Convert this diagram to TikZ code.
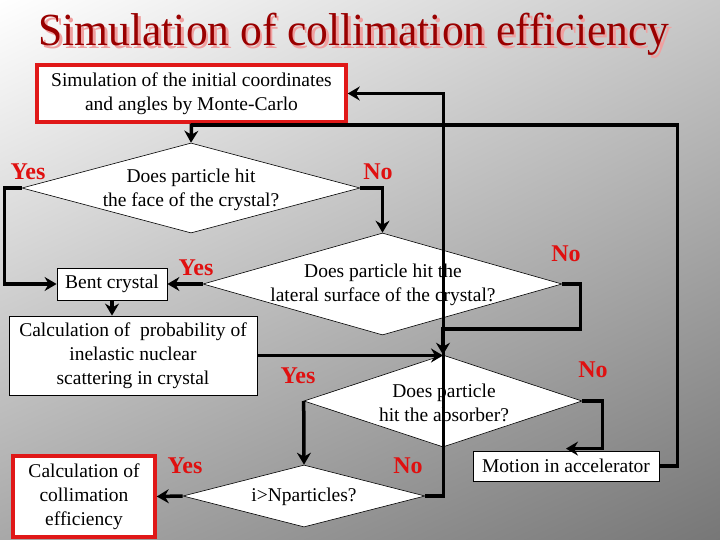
\documentclass[tikz,border=0pt]{standalone}
\usepackage{fontspec}
\usepackage{graphicx}
\setmainfont{Liberation Serif}
\usetikzlibrary{shapes.geometric,arrows.meta,shadings}
\definecolor{titlered}{HTML}{990000}
\definecolor{titleshadow}{HTML}{F0A0A0}
\definecolor{lblred}{HTML}{E01010}
\definecolor{boxred}{HTML}{E01818}
\definecolor{bgUR}{HTML}{C8C8C8}
\definecolor{bgLL}{HTML}{A8A8A8}
\definecolor{bgLR}{HTML}{777777}
\begin{document}
\begin{tikzpicture}[x=1pt,y=-1pt,
 box/.style={draw=black, line width=0.8pt, fill=white, inner sep=0pt, align=center, font=\fontsize{19.5}{24}\selectfont},
 redbox/.style={box, draw=boxred, line width=3.5pt},
 dia/.style={diamond, draw=black, line width=0.6pt, fill=white, inner sep=0pt},
 dtext/.style={align=center, inner sep=0pt, font=\fontsize{19.5}{24}\selectfont},
 lbl/.style={text=lblred, inner sep=0pt, font=\bfseries\fontsize{24}{24}\selectfont},
 conn/.style={line width=3.5pt, draw=black},
 arr/.style={conn, -{Stealth[length=12pt,width=14pt,inset=4pt]}},
 ttl/.style={anchor=base, inner sep=0pt, font=\fontsize{46}{46}\selectfont}
]
\useasboundingbox (0,0) rectangle (720,540);
\shade[upper left=white, upper right=bgUR, lower left=bgLL, lower right=bgLR] (0,0) rectangle (720,540);

% title
\node[ttl, text=titleshadow] (titleshadow) at (356.5,48.5) {\scalebox{0.945}[1]{Simulation of collimation efficiency}};
\node[ttl, text=titlered] (title) at (354,46) {\scalebox{0.945}[1]{Simulation of collimation efficiency}};

% boxes
\node[redbox, minimum width=309pt, minimum height=57pt] (box1) at (191.5,93.5) {Simulation of the initial coordinates\\and angles by Monte-Carlo};
\node[box, minimum width=110pt, minimum height=32pt] (bent) at (112,284) {Bent crystal};
\node[box, minimum width=248pt, minimum height=79pt] (calc) at (133,355.5) {Calculation of\ \ probability of\\inelastic nuclear\\scattering in crystal};
\node[redbox, minimum width=142pt, minimum height=81pt] (calc2) at (84,496.5) {Calculation of\\collimation\\efficiency};
\node[box, minimum width=186pt, minimum height=30pt] (motion) at (566,466) {Motion in accelerator};

% diamonds
\node[dia, minimum width=338pt, minimum height=90pt] (d1) at (191,188) {};
\node[dia, minimum width=359pt, minimum height=102pt] (d2) at (382.5,284) {};
\node[dia, minimum width=278pt, minimum height=92pt] (d3) at (443,401) {};
\node[dia, minimum width=242pt, minimum height=62pt] (d4) at (304,496) {};

\node[dtext] (t1) at (191,190) {Does particle hit\\the face of the crystal?};
\node[dtext] (t2) at (383,285) {Does particle hit the\\lateral surface of the crystal?};
\node[dtext] (t3) at (444,403) {Does particle\\hit the absorber?};
\node[dtext] (t4) at (304,497) {i>Nparticles?};

% labels
\node[lbl] (y1) at (28,172) {Yes};
\node[lbl] (n1) at (378,172) {No};
\node[lbl] (y2) at (196,268) {Yes};
\node[lbl] (n2) at (566,254) {No};
\node[lbl] (y3) at (298,376) {Yes};
\node[lbl] (n3) at (593,370) {No};
\node[lbl] (y4) at (185,466) {Yes};
\node[lbl] (n4) at (408,466) {No};

% connectors
\coordinate (j1) at (191,125);
\draw[arr] (box1.south) -- (d1.north);
\draw[conn] (motion.east) -- ++(18,0) |- (j1);
\draw[arr] (d1.west) -- ++(-17,0) |- (bent.west);
\draw[arr] (d1.east) -| (d2.north);
\draw[arr] (d2.west) -- (bent.east);
\draw[arr] (bent.south) -- (bent.south |- calc.north);
\draw[arr] (calc.east) -- (calc.east -| d3.north);
\draw[arr] (d2.east) -- ++(18,0) -- ++(0,45) -| (d3.north);
\draw[arr] (d3.west) -- (d4.north);
\draw[arr] (d3.east) -- ++(20,0) |- ([yshift=2pt]motion.north);
\draw[arr] (d4.west) -- (calc2.east);
\draw[arr] (d4.east) -- ++(18,0) |- (box1.east);
\end{tikzpicture}
\end{document}
